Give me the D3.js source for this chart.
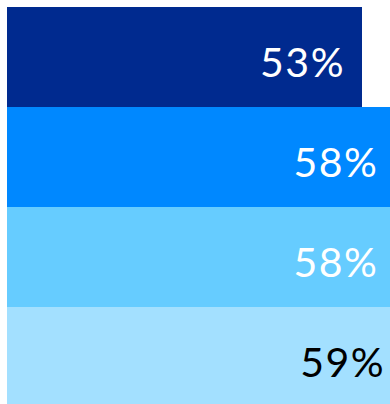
<!DOCTYPE html>
<html>
<head>
<meta charset="utf-8">
<script src="https://cdn.jsdelivr.net/npm/d3@7"></script>
<style>
  html, body { margin: 0; padding: 0; background: #fff; overflow: hidden; }
  #chart { width: 390px; height: 404px; }
</style>
</head>
<body>
<div id="chart"></div>
<script>
const categories = ["Row 1", "Row 2", "Row 3", "Row 4"];
const values = [53, 58, 58, 59];
const barColors = ["#002a8f", "#0088ff", "#66ccff", "#a3e0ff"];
const textColors = ["#ffffff", "#ffffff", "#ffffff", "#000000"];

(function () {

  const width = 390;
  const height = 404;

  const svg = d3.select("#chart")
    .append("svg")
    .attr("width", width)
    .attr("height", height);

  // bars start near the left edge and run off the right side
  const x = d3.scaleLinear()
    .domain([0, 53])
    .range([7, 362]);

  const y = d3.scaleBand()
    .domain(categories)
    .range([7, 407])
    .padding(0);

  const data = categories.map((c, i) => ({
    cat: c, value: values[i], fill: barColors[i], text: textColors[i]
  }));

  svg.selectAll("rect.bar")
    .data(data)
    .join("rect")
    .attr("class", "bar")
    .attr("x", x(0))
    .attr("y", d => y(d.cat))
    .attr("width", d => x(d.value) - x(0))
    .attr("height", y.bandwidth())
    .attr("fill", d => d.fill);

  // value labels, right aligned inside the bar
  svg.selectAll("text.label")
    .data(data)
    .join("text")
    .attr("class", "label")
    .attr("x", d => x(d.value) - 17)
    .attr("y", d => y(d.cat) + y.bandwidth() * 0.7)
    .attr("text-anchor", "end")
    .style("font-family", "Lato, 'Open Sans', sans-serif")
    .style("font-size", "41px")
    .style("letter-spacing", "1.5px")
    .attr("fill", d => d.text)
    .text(d => d.value + "%");

})();
</script>
</body>
</html>
